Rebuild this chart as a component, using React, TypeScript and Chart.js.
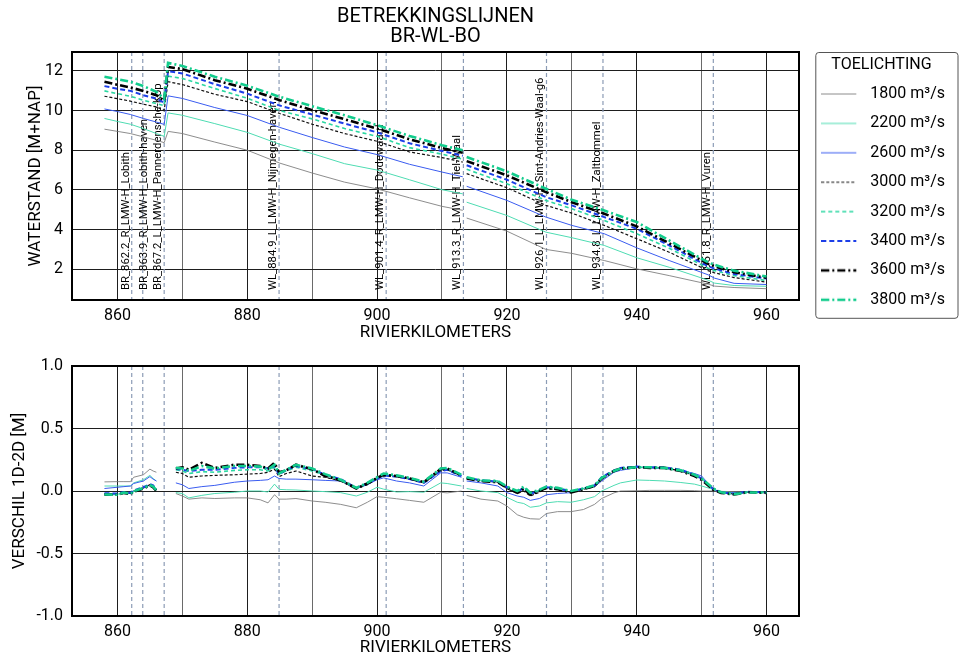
import React, { useEffect, useRef } from 'react';
import { Chart, registerables } from 'chart.js';

Chart.register(...registerables);

const FONT = "Roboto, 'DejaVu Sans', sans-serif";

// ---------- data: top panel (water levels, m+NAP) ----------
const X_TOP = [858, 860, 862, 864, 866, 867.2, 867.8, 870, 875, 880, 885, 890, 895, 900, 905, 910, 913.2, 913.5, 913.8, 920, 926, 930, 935, 940, 945, 951, 952, 955, 960];

const TOP_1800 = [9.06, 8.95, 8.84, 8.67, 8.5, 8.38, 8.95, 8.84, 8.41, 8.0, 7.35, 6.85, 6.39, 6.05, 5.6, 5.17, 4.97, null, 4.58, 3.92, 3.0, 2.8, 2.44, 2.02, 1.68, 1.25, 1.15, 1.08, 1.02];
const TOP_2200 = [9.6, 9.45, 9.31, 9.09, 8.84, 8.7, 9.88, 9.76, 9.34, 8.9, 8.3, 7.83, 7.32, 7.0, 6.51, 6.01, 5.8, null, 5.38, 4.71, 3.87, 3.59, 3.2, 2.58, 2.1, 1.45, 1.3, 1.18, 1.14];
const TOP_2600 = [10.08, 9.95, 9.8, 9.6, 9.42, 9.3, 10.74, 10.61, 10.15, 9.75, 9.15, 8.64, 8.16, 7.78, 7.29, 6.9, 6.66, null, 6.18, 5.47, 4.63, 4.21, 3.79, 3.08, 2.44, 1.72, 1.55, 1.29, 1.23];
const TOP_3000 = [10.72, 10.6, 10.47, 10.32, 10.18, 10.0, 11.45, 11.31, 10.82, 10.45, 9.85, 9.31, 8.84, 8.45, 7.91, 7.63, 7.4, null, 6.82, 6.11, 5.22, 4.83, 4.21, 3.54, 2.86, 1.93, 1.82, 1.58, 1.35];
const TOP_3200 = [10.99, 10.85, 10.72, 10.52, 10.35, 10.25, 11.73, 11.62, 11.11, 10.62, 10.0, 9.58, 9.09, 8.7, 8.13, 7.8, 7.55, null, 7.04, 6.31, 5.47, 5.05, 4.46, 3.79, 3.06, 2.05, 1.93, 1.68, 1.43];
const TOP_3400 = [11.23, 11.1, 10.99, 10.77, 10.6, 10.4, 11.98, 11.87, 11.33, 10.85, 10.25, 9.8, 9.34, 8.9, 8.35, 7.96, 7.72, null, 7.24, 6.51, 5.64, 5.22, 4.63, 4.04, 3.2, 2.15, 2.03, 1.76, 1.53];
const TOP_3600 = [11.45, 11.3, 11.16, 10.99, 10.77, 10.5, 12.2, 12.09, 11.53, 11.1, 10.52, 10.02, 9.56, 9.09, 8.55, 8.11, 7.87, null, 7.45, 6.73, 5.89, 5.38, 4.8, 4.16, 3.31, 2.27, 2.15, 1.85, 1.57];
const TOP_3800 = [11.7, 11.58, 11.45, 11.23, 10.94, 10.6, 12.4, 12.25, 11.7, 11.25, 10.69, 10.22, 9.76, 9.26, 8.72, 8.25, 8.0, null, 7.66, 6.93, 6.06, 5.5, 4.96, 4.38, 3.45, 2.35, 2.22, 1.93, 1.63];

// ---------- data: bottom panel (difference 1D-2D, m) ----------
const X_BOT = [858, 860, 861, 862, 862.5, 864, 865, 865.5, 866, 867.5,
  869, 870, 871, 873, 875, 878, 880, 882, 883.2, 884.2, 884.9, 886, 887.5, 890, 892, 894.4, 896.8, 898.5, 900, 901, 903, 905, 907.2, 909.8, 910.8, 913, 913.5,
  913.8, 916, 918.6, 920, 921.6, 922.6, 923.6, 925, 926.1, 927.8, 929.9, 931.8, 933.5, 934.6, 936.5, 937.5, 940, 942, 944.3, 946.8, 948.9, 950, 951.8, 953, 955, 957, 960];

const BOT_1800 = [0.073, 0.075, 0.075, 0.075, 0.11, 0.13, 0.175, 0.16, 0.15, null,
  -0.02, -0.04, -0.065, -0.055, -0.06, -0.055, -0.055, -0.07, -0.095, -0.03, -0.065, -0.065, -0.06, -0.08, -0.09, -0.107, -0.134, -0.09, -0.045, -0.05, -0.062, -0.075, -0.09, -0.01, -0.015, 0.0, null,
  -0.035, -0.065, -0.08, -0.12, -0.19, -0.21, -0.222, -0.225, -0.18, -0.165, -0.165, -0.148, -0.107, -0.06, -0.015, 0.0, 0.002, 0.005, 0.005, 0.005, 0.003, 0.0, 0.0, -0.003, -0.005, -0.008, -0.013];
const BOT_2200 = [0.04, 0.04, 0.04, 0.04, 0.065, 0.09, 0.125, 0.1, 0.08, null,
  -0.013, -0.02, -0.055, -0.035, -0.02, -0.01, 0.0, 0.0, -0.008, 0.055, 0.013, 0.01, 0.008, 0.0, -0.005, -0.013, -0.04, -0.01, 0.03, 0.015, -0.008, -0.005, -0.01, 0.065, 0.06, 0.04, null,
  0.02, 0.0, -0.013, -0.05, -0.09, -0.1, -0.13, -0.12, -0.095, -0.085, -0.09, -0.07, -0.045, 0.0, 0.045, 0.065, 0.088, 0.085, 0.08, 0.068, 0.055, 0.04, 0.013, -0.005, -0.015, -0.01, -0.013];
const BOT_2600 = [0.02, 0.03, 0.035, 0.04, 0.06, 0.08, 0.115, 0.095, 0.08, null,
  0.065, 0.05, 0.02, 0.035, 0.045, 0.07, 0.08, 0.085, 0.09, 0.12, 0.1, 0.095, 0.095, 0.09, 0.085, 0.08, 0.02, 0.05, 0.09, 0.105, 0.08, 0.065, 0.04, 0.145, 0.145, 0.11, null,
  0.08, 0.065, 0.04, -0.013, -0.04, -0.05, -0.075, -0.06, -0.03, -0.02, -0.013, 0.02, 0.035, 0.08, 0.15, 0.165, 0.188, 0.185, 0.18, 0.165, 0.14, 0.12, 0.013, -0.01, -0.015, -0.008, -0.013];
const BOT_3000 = [-0.02, -0.025, -0.01, -0.02, 0.0, 0.025, 0.05, 0.04, 0.01, null,
  0.15, 0.14, 0.11, 0.12, 0.125, 0.13, 0.135, 0.14, 0.15, 0.175, 0.115, 0.14, 0.16, 0.12, 0.11, 0.08, 0.02, 0.05, 0.1, 0.12, 0.115, 0.095, 0.065, 0.16, 0.17, 0.12, null,
  0.1, 0.08, 0.07, 0.02, -0.02, 0.0, -0.04, -0.01, 0.02, 0.01, -0.01, 0.015, 0.035, 0.1, 0.155, 0.175, 0.19, 0.188, 0.185, 0.16, 0.125, 0.095, 0.015, -0.01, -0.025, -0.01, -0.013];
const BOT_3200 = [-0.025, -0.028, -0.012, -0.022, -0.002, 0.022, 0.05, 0.035, 0.005, null,
  0.17, 0.16, 0.14, 0.155, 0.15, 0.165, 0.17, 0.17, 0.16, 0.19, 0.14, 0.16, 0.19, 0.16, 0.13, 0.09, 0.025, 0.06, 0.105, 0.13, 0.12, 0.1, 0.07, 0.17, 0.175, 0.125, null,
  0.11, 0.085, 0.08, 0.035, -0.005, 0.03, -0.02, 0.005, 0.035, 0.025, 0.0, 0.02, 0.045, 0.105, 0.16, 0.18, 0.19, 0.19, 0.185, 0.165, 0.13, 0.1, 0.02, -0.01, -0.025, -0.008, -0.01];
const BOT_3400 = [-0.018, -0.02, -0.008, -0.015, 0.005, 0.03, 0.055, 0.045, 0.012, null,
  0.175, 0.17, 0.16, 0.17, 0.17, 0.185, 0.19, 0.19, 0.18, 0.2, 0.13, 0.17, 0.2, 0.175, 0.13, 0.095, 0.025, 0.06, 0.1, 0.125, 0.115, 0.095, 0.065, 0.16, 0.17, 0.12, null,
  0.105, 0.085, 0.075, 0.03, -0.01, 0.025, -0.025, 0.005, 0.03, 0.02, -0.005, 0.02, 0.045, 0.11, 0.165, 0.185, 0.195, 0.19, 0.19, 0.17, 0.13, 0.1, 0.015, -0.012, -0.022, -0.005, -0.012];
const BOT_3600 = [-0.03, -0.03, -0.015, -0.025, -0.005, 0.02, 0.045, 0.03, 0.0, null,
  0.18, 0.19, 0.17, 0.225, 0.185, 0.21, 0.21, 0.2, 0.18, 0.225, 0.15, 0.165, 0.21, 0.175, 0.12, 0.085, 0.02, 0.06, 0.105, 0.13, 0.12, 0.1, 0.07, 0.175, 0.18, 0.125, null,
  0.1, 0.08, 0.07, 0.025, -0.015, 0.02, -0.03, 0.0, 0.025, 0.015, -0.012, 0.015, 0.04, 0.1, 0.16, 0.18, 0.19, 0.185, 0.185, 0.16, 0.12, 0.09, 0.01, -0.015, -0.028, -0.01, -0.015];
const BOT_3800 = [-0.028, -0.03, -0.012, -0.022, -0.002, 0.025, 0.048, 0.035, 0.005, null,
  0.185, 0.18, 0.16, 0.2, 0.18, 0.2, 0.2, 0.195, 0.17, 0.21, 0.14, 0.17, 0.21, 0.18, 0.135, 0.09, 0.025, 0.065, 0.11, 0.14, 0.125, 0.105, 0.075, 0.18, 0.185, 0.13, null,
  0.11, 0.085, 0.08, 0.035, 0.0, 0.035, -0.015, 0.01, 0.035, 0.025, 0.0, 0.02, 0.045, 0.105, 0.16, 0.18, 0.19, 0.19, 0.185, 0.165, 0.13, 0.1, 0.02, -0.01, -0.025, -0.012, -0.012];

const SERIES_LABELS = ['1800 m³/s', '2200 m³/s', '2600 m³/s', '3000 m³/s', '3200 m³/s', '3400 m³/s', '3600 m³/s', '3800 m³/s'];

// measuring stations (vertical dashed lines)
const STATION_KM = [862.2, 863.9, 867.2, 884.9, 901.4, 913.3, 926.1, 934.8, 951.8];
const STATION_LABELS = [
  'BR_862.2_R_LMW-H_Lobith',
  'BR_863.9_R_LMW-H_Lobith-haven',
  'BR_867.2_L_LMW-H_Pannerdensche-Kop',
  'WL_884.9_L_LMW-H_Nijmegen-haven',
  'WL_901.4_R_LMW-H_Dodewaard',
  'WL_913.3_R_LMW-H_Tiel-Waal',
  'WL_926.1_L_LMW-H_Sint-Andries-Waal-g6',
  'WL_934.8_L_LMW-H_Zaltbommel',
  'WL_951.8_R_LMW-H_Vuren',
];

const TOP_TICKS_Y_STEP = 2;
const BOT_TICKS_Y_STEP = 0.5;

// ---------- styles ----------
const SERIES_STYLE = [
  { color: '#808080', width: 0.9, dash: [] as number[] },
  { color: '#4edcb2', width: 1, dash: [] as number[] },
  { color: '#3a5cf0', width: 1, dash: [] as number[] },
  { color: '#111111', width: 1.2, dash: [3, 2] },
  { color: '#2cd8a2', width: 1.6, dash: [4, 3] },
  { color: '#1c3ee8', width: 2, dash: [5, 3] },
  { color: '#000000', width: 2.6, dash: [8, 3, 2, 3] },
  { color: '#12cc8c', width: 2.6, dash: [8, 3, 2, 3] },
];

// horizontal nudge (px) of each station label relative to its default spot left of the line
const STATION_LABEL_NUDGE = [0, 7, 0, 0, 0, 0, 0, 0, 0];

const PLOT_LEFT = 72;
const PLOT_RIGHT = 799;
const TOP_PAD_R = 4;
const SWATCH_W = 41;
const SWATCH_LINE = 35;

Chart.defaults.font.family = FONT;
Chart.defaults.color = '#000';

function makeDatasets(xs: number[], series: (number | null)[][]) {
  return series.map((arr, i) => ({
    label: SERIES_LABELS[i],
    data: xs.map((x, j) => ({ x, y: arr[j] })),
    borderColor: SERIES_STYLE[i].color,
    backgroundColor: SERIES_STYLE[i].color,
    borderWidth: SERIES_STYLE[i].width,
    borderDash: SERIES_STYLE[i].dash,
    pointRadius: 0,
    pointHoverRadius: 0,
    tension: 0,
    spanGaps: false,
    order: series.length - i,
  }));
}

function makeSwatch(i: number) {
  const st = SERIES_STYLE[i];
  const c = document.createElement('canvas');
  c.width = SWATCH_W;
  c.height = 10;
  const g = c.getContext('2d') as CanvasRenderingContext2D;
  g.strokeStyle = st.color;
  g.lineWidth = st.width;
  g.setLineDash(st.dash);
  g.beginPath();
  g.moveTo(0, 5);
  g.lineTo(SWATCH_LINE, 5);
  g.stroke();
  return c;
}

function stationPlugin(withLabels: boolean) {
  return {
    id: 'stations',
    beforeDatasetsDraw(chart: any) {
      const { ctx, chartArea, scales } = chart;
      ctx.save();
      STATION_KM.forEach((km, i) => {
        const x = scales.x.getPixelForValue(km);
        ctx.strokeStyle = '#8c9cb6';
        ctx.lineWidth = 1.2;
        ctx.setLineDash([4, 3]);
        ctx.beginPath();
        ctx.moveTo(x, chartArea.top);
        ctx.lineTo(x, chartArea.bottom);
        ctx.stroke();
        if (withLabels) {
          ctx.save();
          ctx.translate(x - 3 + STATION_LABEL_NUDGE[i], chartArea.bottom - 10);
          ctx.rotate(-Math.PI / 2);
          ctx.font = `11.3px ${FONT}`;
          ctx.fillStyle = '#000';
          ctx.textAlign = 'left';
          ctx.textBaseline = 'alphabetic';
          ctx.fillText(STATION_LABELS[i], 0, 0);
          ctx.restore();
        }
      });
      ctx.restore();
    },
  };
}

const framePlugin = {
  id: 'frame',
  afterDraw(chart: any) {
    const { ctx, chartArea } = chart;
    ctx.save();
    ctx.strokeStyle = '#000';
    ctx.lineWidth = 2;
    ctx.setLineDash([]);
    ctx.strokeRect(chartArea.left, chartArea.top, chartArea.right - chartArea.left, chartArea.bottom - chartArea.top);
    ctx.restore();
  },
};

const legendBoxPlugin = {
  id: 'legendBox',
  afterDraw(chart: any) {
    const lg = chart.legend;
    if (!lg || !lg.legendHitBoxes || !lg.legendHitBoxes.length) return;
    const hb = lg.legendHitBoxes;
    const { ctx } = chart;
    const left = hb[0].left - 6;
    const right = chart.width - 1.5;
    const top = chart.chartArea.top;
    const last = hb[hb.length - 1];
    const bottom = last.top + last.height + 10;
    ctx.save();
    ctx.strokeStyle = '#555';
    ctx.lineWidth = 1;
    ctx.setLineDash([]);
    ctx.beginPath();
    (ctx as any).roundRect(left + 0.5, top + 0.5, right - left, bottom - top, 3);
    ctx.stroke();
    ctx.restore();
  },
};

function xScale(height: number, titleBottomPad: number) {
  return {
    type: 'linear' as const,
    min: 853,
    max: 965,
    ticks: {
      stepSize: 10,
      includeBounds: false,
      autoSkip: false,
      maxRotation: 0,
      padding: 6,
      color: '#000',
      font: { family: FONT, size: 16 },
      callback: (v: any) => (Number(v) % 20 === 0 ? String(v) : ''),
    },
    grid: {
      drawTicks: false,
      lineWidth: 1,
      color: (c: any) => (c.tick && c.tick.value % 20 === 0 ? '#1e1e1e' : '#6a6a6a'),
    },
    border: { display: false },
    title: {
      display: true,
      text: 'RIVIERKILOMETERS',
      color: '#000',
      font: { family: FONT, size: 17 },
      padding: { top: 0, bottom: titleBottomPad },
    },
    afterFit: (s: any) => {
      s.height = height;
    },
  };
}

export default function App() {
  const topRef = useRef<HTMLCanvasElement>(null);
  const botRef = useRef<HTMLCanvasElement>(null);

  useEffect(() => {
    const swatches = SERIES_STYLE.map((_, i) => makeSwatch(i));

    const topChart = new Chart(topRef.current as HTMLCanvasElement, {
      type: 'line',
      data: {
        datasets: makeDatasets(X_TOP, [TOP_1800, TOP_2200, TOP_2600, TOP_3000, TOP_3200, TOP_3400, TOP_3600, TOP_3800]) as any,
      },
      options: {
        responsive: false,
        animation: false,
        devicePixelRatio: 1,
        events: [],
        layout: { padding: { left: 0, right: TOP_PAD_R, top: 0, bottom: 0 } },
        scales: {
          x: xScale(40, -2.5) as any,
          y: {
            type: 'linear',
            min: 0.45,
            max: 12.95,
            ticks: { stepSize: TOP_TICKS_Y_STEP, includeBounds: false, padding: 9, color: '#000', font: { family: FONT, size: 16 } },
            grid: { drawTicks: false, color: '#1e1e1e', lineWidth: 1 },
            border: { display: false },
            title: { display: true, text: 'WATERSTAND [M+NAP]', color: '#000', font: { family: FONT, size: 17 }, padding: { top: 26, bottom: 0 } },
            afterFit: (s: any) => {
              s.width = PLOT_LEFT;
            },
          } as any,
          yR: {
            type: 'linear',
            position: 'right',
            display: true,
            grid: { display: false, drawTicks: false },
            ticks: { display: false },
            border: { display: false },
            afterFit: (s: any) => {
              const lw = s.chart.legend ? s.chart.legend.width : 0;
              s.width = Math.max(0, s.chart.width - TOP_PAD_R - lw - PLOT_RIGHT);
            },
          } as any,
        },
        plugins: {
          title: {
            display: true,
            fullSize: false,
            text: ['BETREKKINGSLIJNEN', 'BR-WL-BO'],
            color: '#000',
            font: { family: FONT, size: 20, weight: 'normal', lineHeight: 1.0 },
            padding: { top: 7, bottom: 5 },
          },
          legend: {
            display: true,
            position: 'right',
            align: 'start',
            title: {
              display: true,
              text: 'TOELICHTING',
              color: '#000',
              font: { family: FONT, size: 16 },
              padding: { top: 57, bottom: -3.6 },
            },
            labels: {
              usePointStyle: true,
              pointStyleWidth: SWATCH_W,
              boxHeight: 16,
              padding: 13.4,
              color: '#000',
              font: { family: FONT, size: 16 },
              sort: (a: any, b: any) => a.datasetIndex - b.datasetIndex,
              generateLabels: (chart: any) => {
                const items = Chart.defaults.plugins.legend.labels.generateLabels(chart);
                return items.map((it: any) => ({
                  ...it,
                  pointStyle: swatches[it.datasetIndex],
                  strokeStyle: SERIES_STYLE[it.datasetIndex].color,
                  lineWidth: SERIES_STYLE[it.datasetIndex].width,
                  lineDash: SERIES_STYLE[it.datasetIndex].dash,
                }));
              },
            },
          } as any,
          tooltip: { enabled: false },
        },
      },
      plugins: [stationPlugin(true), framePlugin, legendBoxPlugin],
    });

    const botChart = new Chart(botRef.current as HTMLCanvasElement, {
      type: 'line',
      data: {
        datasets: makeDatasets(X_BOT, [BOT_1800, BOT_2200, BOT_2600, BOT_3000, BOT_3200, BOT_3400, BOT_3600, BOT_3800]) as any,
      },
      options: {
        responsive: false,
        animation: false,
        devicePixelRatio: 1,
        events: [],
        layout: { padding: { left: 0, right: 959 - PLOT_RIGHT, top: 26, bottom: 0 } },
        scales: {
          x: xScale(43, 1.0) as any,
          y: {
            type: 'linear',
            min: -1,
            max: 1,
            ticks: {
              stepSize: BOT_TICKS_Y_STEP,
              padding: 9,
              color: '#000',
              font: { family: FONT, size: 16 },
              callback: (v: any) => Number(v).toFixed(1),
            },
            grid: { drawTicks: false, color: '#1e1e1e', lineWidth: 1 },
            border: { display: false },
            title: { display: true, text: 'VERSCHIL 1D-2D [M]', color: '#000', font: { family: FONT, size: 17 }, padding: { top: 10, bottom: 0 } },
            afterFit: (s: any) => {
              s.width = PLOT_LEFT;
            },
          } as any,
        },
        plugins: {
          legend: { display: false },
          title: { display: false },
          tooltip: { enabled: false },
        },
      },
      plugins: [stationPlugin(false), framePlugin],
    });

    return () => {
      topChart.destroy();
      botChart.destroy();
    };
  }, []);

  return (
    <div style={{ position: 'absolute', left: 0, top: 0, width: 959, height: 659, background: '#fff' }}>
      <canvas ref={topRef} width={959} height={340} style={{ position: 'absolute', left: 0, top: 0 }} />
      <canvas ref={botRef} width={959} height={319} style={{ position: 'absolute', left: 0, top: 340 }} />
    </div>
  );
}
